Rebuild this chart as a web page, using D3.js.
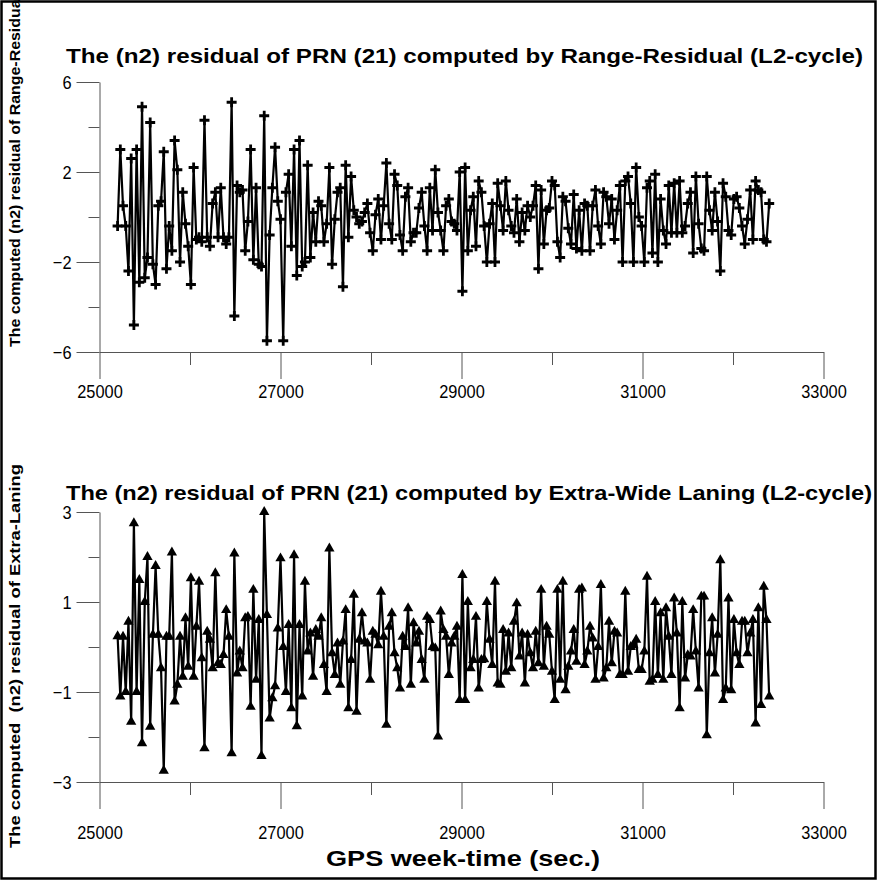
<!DOCTYPE html>
<html>
<head>
<meta charset="utf-8">
<script src="https://cdn.jsdelivr.net/npm/d3@7"></script>
<style>
  body { margin: 0; background: #fff; }
  svg { display: block; font-family: "Liberation Sans", Arial, sans-serif; }
</style>
</head>
<body>
<svg id="chart"></svg>
<script>
// GPS epochs: 30 s sampling starting at week-time 25200
const epochStart = 25200;
const epochStep = 30;

const xTicksMajor = [25000, 27000, 29000, 31000, 33000];
const xTicksMinor = [26000, 28000, 30000, 32000];

// (n2) residual, Range-Residual method (L2-cycle)
const rangeResidual = [
  -0.4, 3.0, 0.5, -0.4, -2.4, 2.6, -4.8, 3.0, -2.9, 4.9,
  -2.7, -1.8, 4.2, -2.1, -3.0, 0.5, 0.7, 2.9, -2.3, -0.4,
  -1.5, 3.4, 2.1, -2.0, 1.1, -0.3, -1.3, -3.0, 2.2, -1.0,
  -0.9, -1.1, 4.3, -0.9, -1.3, 0.6, 1.1, -0.9, 1.3, -0.9,
  -1.2, -0.9, 5.1, -4.4, 1.4, 1.1, 1.2, -1.5, -0.2, 3.0,
  -1.9, 1.3, -2.1, -2.2, 4.5, -5.5, -0.8, 1.3, 3.1, 0.7,
  -0.1, -5.5, 1.1, 1.9, -1.3, 3.0, -2.6, 3.4, -2.2, -2.0,
  2.3, -1.8, 0.2, -1.1, 0.7, 0.5, -1.1, -0.3, 2.2, -2.1,
  -0.1, 1.1,
  1.3, -3.1, 2.3, -0.9, 1.8, 0.3, 0.0, -0.3, -0.2, 0.2,
  0.6, -0.7, -1.5, 0.1, 0.8, -1.0, 0.5, 2.4, -0.3, -1.0,
  1.9, 1.4, -0.8, -1.5, 0.9, 1.3, -1.1, -0.7, -0.7, 0.4,
  1.1, -0.4, -1.5, 1.3, -0.6, 2.1, 0.2, -0.6, -1.5, 0.5,
  0.8, -0.2, -0.3, -0.6, 2.0, -3.3, 2.2, -1.5, 0.3, 0.9,
  -1.3, 1.6, 1.1, -0.4, -2.0, -0.3, 0.6, -2.0, 1.5, 0.5,
  -0.6, 1.6, 0.3, -0.4, -0.7, 0.8, -1.1, 0.2, -0.6, 0.5,
  0.0, 0.5, 1.4, -2.3, 1.2, -1.2, 0.3, 0.4, 1.6, 1.4,
  -1.1, -1.8, 0.9, 0.7, -0.5, -1.2, 1.0, -1.4,
  0.3, -1.5, 0.6, 0.5, -1.5, 0.5, 1.2, -0.4, -1.2, 1.1,
  0.9, -0.3, 0.8, -1.0, 0.3, 1.4, -2.0, 1.6, 1.8, 0.6,
  -2.0, 2.2, 0.0, -0.4, -2.0, 1.3, 1.6, -1.6, 1.9, -2.0,
  0.8, -0.6, -1.2, 1.4, -0.7, 1.5, -0.7, 1.6, -0.7, -0.4,
  0.6, 1.1, -1.6, 1.8, -0.3, -1.4, -1.5, 1.8, 0.3, -0.6,
  1.1, -0.2, -2.4, 1.5, 0.9, -0.6, -0.8, 0.8, 0.9, 0.4,
  -0.4, -1.2, -0.1, 1.2, -1.0, 1.6, 1.2, 1.1, -1.0, -1.1, 0.6
];

// (n2) residual, Extra-Wide Laning method (L2-cycle)
const extraWideLaning = [
  0.24, -1.1, 0.23, -1.0, 0.56, -1.66, 2.75, -1.0, 1.49, -2.14,
  1.0, 2.0, -1.77, 0.27, 1.8, 0.27, -0.47, -2.75, 0.23, 0.23,
  2.1, -1.21, -0.84, 0.23, -0.66, 0.64, -0.44, 1.53, -0.66, 0.45,
  1.45, -0.25, -2.25, 0.34, 0.16, -0.47, 1.64, -0.36, -0.4, -0.18,
  0.82, 0.23, -2.36, 2.08, -0.59, -0.1, -0.47, 0.64, 0.67, -1.33,
  1.27, -0.73, 0.6, -2.42, 3.0, 0.71, -1.59, -1.14, -0.87, 0.41,
  1.97, 0, -1.0, 0.49, -1.36, 2.04, -1.76, 0.49, -1.1, 1.45,
  -0.1, 0.3, -0.66, 0.38, 0.23, 0.64, -0.4, -1.0, 2.19, -0.14,
  -0.62, 0.08,
  -0.84, 0.12, 0.82, -1.36, -0.29, 1.16, -1.44, 0.16, 0.75, 0.12,
  0.08, -0.73, 0.34, 0.27, 0.04, 1.23, 0.23, -1.73, 0.45, 0.75,
  -0.14, -0.47, -0.92, 0.23, 0, 0.86, -0.84, 0.53, 0.08, 0.34,
  -0.29, -0.73, 0.67, 0.6, 0, -0.03, -1.99, 0.79, 0.38, 0.23,
  -0.62, 0.08, 0.23, 0.45, -1.18, 1.6, -1.18, 1.0, -0.47, -0.29,
  0.67, -0.92, -0.29, -0.27, 1.0, 0.16, -0.4, 1.45, -0.81, -0.84,
  0.38, -0.55, 0.3, -0.47, 0.56, 0.97, -0.21, 0.3, -0.81, 0.27,
  -0.14, -0.47, 0.34, -0.36, 1.27, -0.44, 0.45, 0.27, -0.55, -1.18,
  1.27, -0.73, 1.45, -0.96, -0.44, -0.1, 0.38, -0.33, 1.27,
  1.3, -0.4, -0.1, 0.45, 0.19, -0.73, 0, 1.38, -0.7, -0.47,
  0.56, -0.36, 0.34, 0.3, -0.62, -0.62, 1.23, -0.55, 0, 0.04,
  0.16, -0.51, -0.51, -0.1, 1.56, -0.77, -0.73, 1.0, -0.62, 0.75,
  -0.73, 0.86, 0.23, -0.62, 1.08, 0.3, -1.36, 1.0, -0.7, -0.18,
  -0.21, 0.82, -0.1, -0.92, 1.12, 1.12, -1.96, -0.14, 0.64, -0.59,
  0.27, 1.93, -1.18, -0.92, 1.08, -0.96, 0.6, -0.14, -0.4, 0.56,
  0.56, -0.14, 0.3, 0.6, -1.7, 0.86, -1.29, 1.34, 0.6, -1.1
];

const width = 877;
const height = 880;
const axisColor = "#555";

const svg = d3.select("#chart").attr("width", width).attr("height", height);

// outer frame
svg.append("rect")
  .attr("x", 1.5).attr("y", 1.5)
  .attr("width", width - 3).attr("height", height - 3)
  .attr("fill", "none").attr("stroke", "#000").attr("stroke-width", 2.5);

const x = d3.scaleLinear().domain([25000, 33000]).range([99.5, 823.5]);

// squeeze tick labels a little, the original font is narrow
const condense = (sel) =>
  sel.each(function () {
    const w = this.getComputedTextLength();
    d3.select(this)
      .attr("textLength", w * 0.86)
      .attr("lengthAdjust", "spacingAndGlyphs");
  });

const panels = [
  {
    values: rangeResidual,
    title: "The (n2) residual of PRN (21) computed by Range-Residual (L2-cycle)",
    titleY: 63, titleLen: 797,
    yLabel: "The computed (n2) residual of Range-Residual",
    yLabelStart: 347, yLabelLen: 352,
    yDomain: [-6, 6], yRange: [352, 82],
    yMajor: [-6, -2, 2, 6], yMinor: [-4, 0, 4],
    xPad: 6,
    marker: "plus"
  },
  {
    values: extraWideLaning,
    title: "The (n2) residual of PRN (21) computed by Extra-Wide Laning (L2-cycle)",
    titleY: 500, titleLen: 806,
    yLabel: "The computed  (n2) residual of Extra-Laning",
    yLabelStart: 848, yLabelLen: 384,
    yDomain: [-3, 3], yRange: [782, 512],
    yMajor: [-3, -1, 1, 3], yMinor: [-2, 0, 2],
    xPad: 17,
    marker: "triangle"
  }
];

panels.forEach((p) => {
  const y = d3.scaleLinear().domain(p.yDomain).range(p.yRange);
  const g = svg.append("g");

  // x axis: long ticks labelled, short ticks in between
  g.append("g")
    .attr("transform", `translate(0,${p.yRange[0]})`)
    .call(d3.axisBottom(x).tickValues(xTicksMinor).tickSize(13).tickSizeOuter(0).tickFormat(""))
    .call((a) => a.select(".domain").remove());
  const xa = g.append("g")
    .attr("transform", `translate(0,${p.yRange[0]})`)
    .call(d3.axisBottom(x).tickValues(xTicksMajor).tickSize(27).tickSizeOuter(0).tickPadding(p.xPad).tickFormat(d3.format("d")));
  xa.selectAll("text").attr("font-size", 19).attr("fill", "#000").call(condense);

  // y axis
  g.append("g")
    .attr("transform", `translate(${x.range()[0]},0)`)
    .call(d3.axisLeft(y).tickValues(p.yMinor).tickSize(11).tickSizeOuter(0).tickFormat(""))
    .call((a) => a.select(".domain").remove());
  const ya = g.append("g")
    .attr("transform", `translate(${x.range()[0]},0)`)
    .call(d3.axisLeft(y).tickValues(p.yMajor).tickSize(23).tickSizeOuter(0).tickPadding(5).tickFormat(d3.format("d")));
  ya.selectAll("text").attr("font-size", 19).attr("fill", "#000").call(condense);

  g.selectAll(".domain, .tick line").attr("stroke", axisColor);

  // data
  const pts = p.values.map((v, i) => ({ t: epochStart + i * epochStep, v: v }));
  const line = d3.line().x((d) => x(d.t)).y((d) => y(d.v));
  g.append("path")
    .datum(pts)
    .attr("d", line)
    .attr("fill", "none")
    .attr("stroke", "#000")
    .attr("stroke-width", 2.2)
    .attr("stroke-linejoin", "round");

  if (p.marker === "plus") {
    g.selectAll(".mark")
      .data(pts)
      .join("path")
      .attr("class", "mark")
      .attr("transform", (d) => `translate(${x(d.t)},${y(d.v)})`)
      .attr("d", "M-5,0H5M0,-5V5")
      .attr("stroke", "#000")
      .attr("stroke-width", 2.8);
  } else {
    g.selectAll(".mark")
      .data(pts)
      .join("path")
      .attr("class", "mark")
      .attr("transform", (d) => `translate(${x(d.t)},${y(d.v)})`)
      .attr("d", d3.symbol(d3.symbolTriangle, 46))
      .attr("fill", "#000");
  }

  // titles
  g.append("text")
    .attr("x", 66)
    .attr("y", p.titleY)
    .attr("font-size", 21)
    .attr("font-weight", "bold")
    .attr("textLength", p.titleLen)
    .attr("lengthAdjust", "spacingAndGlyphs")
    .text(p.title);

  g.append("text")
    .attr("transform", `translate(20,${p.yLabelStart}) rotate(-90)`)
    .attr("font-size", 15)
    .attr("font-weight", "bold")
    .attr("textLength", p.yLabelLen)
    .attr("lengthAdjust", "spacingAndGlyphs")
    .style("white-space", "pre")
    .text(p.yLabel);
});

svg.append("text")
  .attr("x", 463)
  .attr("y", 866)
  .attr("text-anchor", "middle")
  .attr("font-size", 22)
  .attr("font-weight", "bold")
  .attr("textLength", 274)
  .attr("lengthAdjust", "spacingAndGlyphs")
  .text("GPS week-time (sec.)");
</script>
</body>
</html>
